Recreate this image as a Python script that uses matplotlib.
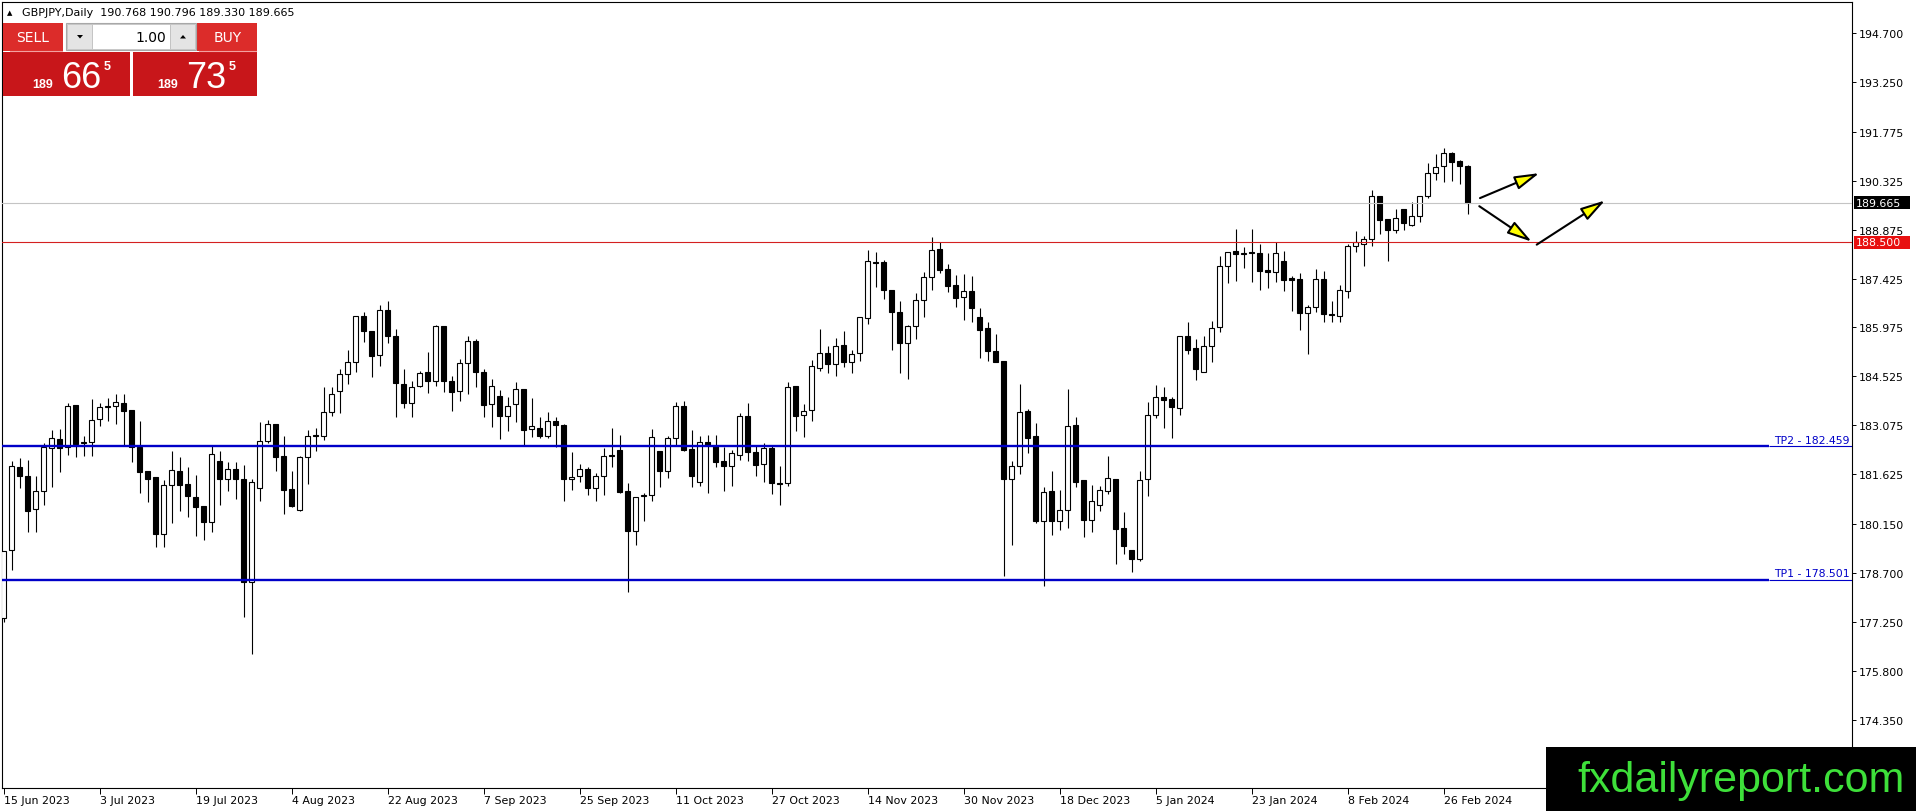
import numpy as np
import matplotlib
matplotlib.use("Agg")
import matplotlib.pyplot as plt
from matplotlib.patches import Rectangle, Polygon

W, H = 1916, 812

# daily bars, GBPJPY, 15 Jun 2023 .. 29 Feb 2024
opens = [177.36, 179.38, 181.84, 181.56, 180.59, 181.14, 182.40, 182.67, 182.42, 183.68,
         182.55, 182.57, 183.25, 183.62, 183.64, 183.74, 183.53, 182.44, 181.71, 181.53,
         179.86, 181.31, 181.71, 181.34, 180.94, 180.67, 180.20, 182.01, 181.49, 181.78,
         181.49, 178.42, 181.21, 182.60, 183.12, 182.16, 181.19, 180.57, 182.13, 182.79,
         182.77, 183.46, 184.08, 184.60, 184.94, 186.31, 185.86, 185.16, 186.49, 185.71,
         184.30, 183.73, 184.25, 184.65, 184.40, 186.01, 184.40, 184.08, 184.91, 185.57,
         184.65, 183.71, 183.94, 183.34, 183.71, 184.15, 182.97, 183.00, 182.75, 183.19,
         183.09, 181.48, 181.56, 181.78, 181.21, 181.56, 182.20, 182.34, 181.12, 179.93,
         180.97, 181.02, 182.30, 181.71, 182.69, 183.64, 182.37, 181.39, 182.57, 182.47,
         182.01, 181.86, 182.20, 183.34, 182.28, 181.93, 182.39, 181.37, 181.36, 184.23,
         183.38, 183.54, 184.77, 185.21, 184.89, 185.46, 184.94, 185.21, 186.25, 187.93,
         187.91, 187.10, 186.42, 185.52, 186.01, 186.80, 187.46, 188.30, 187.71, 187.23,
         186.87, 187.07, 186.28, 185.96, 185.27, 184.99, 181.47, 181.86, 183.51, 182.75,
         180.25, 181.12, 180.25, 180.57, 183.09, 181.44, 180.28, 180.72, 181.14, 181.48,
         180.02, 179.38, 179.11, 181.47, 183.39, 183.91, 183.86, 183.58, 185.71, 185.37,
         184.65, 185.44, 185.98, 187.79, 188.23, 188.14, 188.20, 188.17, 187.68, 187.61,
         187.96, 187.43, 187.41, 186.39, 186.57, 187.41, 186.37, 186.33, 187.07, 188.38,
         188.45, 188.60, 189.86, 189.19, 188.87, 189.49, 189.02, 189.29, 189.88, 190.55,
         190.75, 191.15, 190.91, 190.768]
highs = [179.36, 182.01, 182.11, 182.06, 181.58, 182.55, 182.94, 182.97, 183.74, 183.68,
         182.77, 183.86, 183.74, 183.89, 184.00, 184.00, 183.53, 183.21, 181.71, 181.55,
         181.46, 182.30, 182.13, 181.83, 181.60, 180.69, 182.47, 182.31, 181.98, 181.98,
         181.90, 181.49, 183.18, 183.23, 183.12, 182.75, 181.73, 182.16, 182.95, 183.00,
         184.20, 184.22, 184.75, 185.32, 186.33, 186.42, 185.86, 186.64, 186.77, 185.93,
         184.75, 184.40, 184.68, 185.24, 186.05, 186.01, 184.55, 185.04, 185.73, 185.63,
         184.75, 184.45, 184.13, 183.91, 184.35, 184.15, 183.89, 183.33, 183.46, 183.33,
         183.12, 182.28, 181.93, 181.83, 181.66, 182.40, 183.00, 182.79, 181.36, 180.96,
         181.06, 182.97, 182.30, 182.77, 183.76, 183.79, 182.94, 182.75, 182.80, 182.80,
         182.44, 182.34, 183.43, 183.74, 182.47, 182.55, 182.47, 181.86, 184.35, 184.25,
         183.71, 185.01, 185.93, 185.44, 185.66, 185.86, 185.31, 186.28, 188.27, 188.20,
         187.98, 187.10, 186.75, 186.06, 186.99, 187.61, 188.65, 188.50, 187.86, 187.53,
         187.56, 187.49, 186.54, 186.15, 185.78, 184.99, 182.01, 184.30, 183.56, 183.14,
         181.24, 181.71, 181.17, 184.15, 183.31, 181.44, 181.31, 181.29, 182.16, 181.48,
         180.50, 179.38, 181.71, 183.76, 184.28, 184.20, 183.91, 185.71, 186.13, 185.63,
         185.71, 186.18, 188.08, 188.22, 188.89, 188.35, 188.89, 188.45, 188.17, 188.52,
         188.25, 187.51, 187.58, 186.65, 187.71, 187.64, 186.75, 187.23, 188.45, 188.83,
         188.68, 190.05, 189.86, 189.19, 189.49, 189.49, 189.68, 189.88, 190.84, 191.12,
         191.28, 191.17, 190.95, 190.796]
lows = [177.24, 178.80, 181.22, 179.90, 179.90, 180.72, 181.24, 181.68, 182.21, 182.13,
        182.18, 182.18, 183.07, 183.19, 183.12, 182.47, 181.98, 181.06, 180.79, 179.46,
        179.46, 180.17, 180.55, 180.35, 179.79, 179.68, 179.90, 180.72, 181.12, 180.89,
        177.39, 176.30, 180.84, 182.54, 181.73, 180.45, 180.65, 180.55, 181.34, 182.32,
        182.64, 183.36, 183.43, 184.30, 184.67, 185.54, 184.52, 184.84, 185.51, 183.33,
        183.58, 183.33, 184.22, 184.02, 184.25, 184.05, 183.51, 183.79, 184.00, 184.22,
        183.33, 183.02, 182.67, 182.90, 183.16, 182.50, 182.74, 182.69, 182.70, 182.44,
        180.82, 181.17, 181.39, 181.02, 180.84, 181.02, 181.85, 181.08, 178.13, 179.54,
        180.25, 180.82, 181.24, 181.51, 182.47, 182.32, 181.24, 181.29, 181.06, 181.83,
        181.14, 181.27, 182.06, 182.01, 181.58, 181.39, 181.04, 180.72, 181.29, 182.92,
        182.72, 183.19, 184.70, 184.62, 184.53, 184.81, 184.62, 184.97, 186.08, 187.17,
        186.82, 185.31, 184.62, 184.45, 185.63, 186.28, 187.09, 187.58, 187.04, 186.59,
        186.21, 186.15, 185.06, 184.99, 184.96, 178.62, 179.54, 181.63, 182.25, 180.18,
        178.32, 179.81, 179.98, 180.02, 181.24, 179.76, 179.92, 180.55, 181.04, 178.97,
        179.26, 178.72, 179.04, 180.99, 183.29, 182.99, 182.70, 183.38, 185.19, 184.43,
        184.65, 184.96, 185.83, 187.28, 187.36, 187.73, 187.31, 187.10, 187.14, 187.31,
        187.07, 186.47, 185.91, 185.19, 186.42, 186.15, 186.15, 186.15, 186.84, 188.20,
        187.81, 188.40, 188.75, 187.96, 188.78, 188.87, 188.99, 189.11, 189.80, 190.36,
        190.30, 190.33, 190.23, 189.330]
closes = [179.36, 181.88, 181.58, 180.55, 181.14, 182.42, 182.69, 182.39, 183.64, 182.52,
          182.59, 183.23, 183.61, 183.64, 183.76, 183.51, 182.42, 181.70, 181.49, 179.84,
          181.31, 181.75, 181.32, 180.97, 180.65, 180.20, 182.23, 181.47, 181.78, 181.47,
          178.42, 181.39, 182.60, 183.10, 182.15, 181.17, 180.69, 182.13, 182.75, 182.75,
          183.46, 184.00, 184.60, 184.94, 186.31, 185.86, 185.12, 186.49, 185.71, 184.32,
          183.73, 184.20, 184.62, 184.40, 186.01, 184.40, 184.05, 184.91, 185.57, 184.65,
          183.69, 184.25, 183.34, 183.66, 184.15, 182.95, 183.05, 182.75, 183.19, 183.08,
          181.47, 181.55, 181.78, 181.21, 181.56, 182.16, 182.16, 181.11, 179.93, 180.94,
          181.02, 182.72, 181.71, 182.69, 183.64, 182.35, 181.58, 182.57, 182.49, 181.98,
          181.86, 182.25, 183.34, 182.28, 181.91, 182.39, 181.36, 181.34, 184.22, 183.36,
          183.51, 184.84, 185.21, 184.89, 185.44, 184.94, 185.19, 186.28, 187.94, 187.90,
          187.09, 186.42, 185.52, 186.03, 186.80, 187.46, 188.28, 187.69, 187.19, 186.85,
          187.05, 186.55, 185.91, 185.27, 184.96, 181.47, 181.86, 183.46, 182.70, 180.25,
          181.09, 180.25, 180.57, 183.07, 181.41, 180.28, 180.82, 181.17, 181.50, 180.00,
          179.51, 179.11, 181.44, 183.39, 183.91, 183.84, 183.61, 185.71, 185.32, 184.73,
          185.44, 185.95, 187.79, 188.22, 188.14, 188.19, 188.17, 187.66, 187.61, 188.17,
          187.39, 187.39, 186.39, 186.57, 187.41, 186.36, 186.34, 187.09, 188.38, 188.50,
          188.60, 189.86, 189.17, 188.87, 189.21, 189.06, 189.29, 189.88, 190.55, 190.72,
          191.15, 190.89, 190.75, 189.665]

date_labels = ["15 Jun 2023", "3 Jul 2023", "19 Jul 2023", "4 Aug 2023", "22 Aug 2023",
               "7 Sep 2023", "25 Sep 2023", "11 Oct 2023", "27 Oct 2023", "14 Nov 2023",
               "30 Nov 2023", "18 Dec 2023", "5 Jan 2024", "23 Jan 2024", "8 Feb 2024",
               "26 Feb 2024"]
label_step = 12

price_ticks = [194.700, 193.250, 191.775, 190.325, 188.875, 187.425, 185.975, 184.525,
               183.075, 181.625, 180.150, 178.700, 177.250, 175.800, 174.350]

bid = 189.665
level = 188.500
tp_levels = [182.459, 178.501]
tp_names = ["TP2", "TP1"]

# arrow objects (bar index, price): tail -> tip
arrows = [((184.55, 189.81), (191.96, 190.55)),
          ((184.46, 189.57), (191.01, 188.52)),
          ((191.64, 188.43), (200.18, 189.74))]

plt.rcParams['font.family'] = ['DejaVu Sans']
fig = plt.figure(figsize=(W / 100, H / 100), dpi=100)
ax = fig.add_axes([2 / W, 1 - 789 / H, 1850 / W, 786 / H])
ax.set_xlim(-0.2, 231.05)
ax.set_ylim(172.326, 195.622)

o = np.array(opens); c = np.array(closes)
hi = np.array(highs); lo = np.array(lows)
x = np.arange(len(o))
up = c >= o
bottom = np.minimum(o, c)
height = np.abs(c - o)

ax.vlines(x, lo, hi, color='black', lw=0.8, zorder=2)
ax.bar(x[up], height[up], bottom=bottom[up], width=0.58, facecolor='white',
       edgecolor='black', lw=0.8, zorder=3)
ax.bar(x[~up], height[~up], bottom=bottom[~up], width=0.58, facecolor='black',
       edgecolor='black', lw=0.8, zorder=3)

# horizontal levels
ax.axhline(bid, color='#c4c4c4', lw=0.8, zorder=4)
ax.axhline(level, color='#d42020', lw=0.8, zorder=4)
for lv, nm in zip(tp_levels, tp_names):
    ax.hlines(lv, -0.2, 220.7, color='#0000c8', lw=1.7, zorder=4)
    ax.hlines(lv, 220.7, 231.05, color='#0000c8', lw=0.8, zorder=4)
    ax.annotate("%s - %.3f" % (nm, lv), xy=(231.05, lv), xytext=(-2, 1.5),
                textcoords='offset pixels', ha='right', va='bottom',
                color='#0000c8', fontsize=7.8, zorder=5)

for tail, tip in arrows:
    ax.annotate('', xy=tip, xytext=tail,
                arrowprops=dict(arrowstyle='-|>,head_length=1.5,head_width=0.42',
                                fc='#ffff00', ec='black', lw=1.5,
                                shrinkA=0, shrinkB=0, mutation_scale=10),
                zorder=6)

# axes styling
for s in ax.spines.values():
    s.set_linewidth(0.8)
    s.set_color('black')
ax.yaxis.tick_right()
ax.set_yticks(price_ticks)
ax.set_yticklabels(["%.3f" % p for p in price_ticks])
ax.tick_params(axis='y', direction='out', length=3, width=0.7, pad=2, labelsize=7.9)
xt = list(range(0, label_step * len(date_labels), label_step))
ax.set_xticks(xt)
ax.set_xticklabels(date_labels, ha='left')
ax.tick_params(axis='x', direction='out', length=4, width=0.7, pad=1, labelsize=7.9)

# price boxes on the scale
ytr = ax.get_yaxis_transform()
for p, col in [(bid, 'black'), (level, '#e81010')]:
    ax.add_patch(Rectangle((1 + 2 / 1850, p - 6.5 / 33.74), 56 / 1850, 13 / 33.74,
                           transform=ytr, facecolor=col, edgecolor='none',
                           clip_on=False, zorder=5))
    ax.text(1 + 4 / 1850, p, "%.3f" % p, transform=ytr, va='center', ha='left',
            color='white', fontsize=7.9, zorder=6, clip_on=False)

# overlay in pixel coordinates for the terminal widgets
ov = fig.add_axes([0, 0, 1, 1], zorder=10)
ov.set_xlim(0, W)
ov.set_ylim(H, 0)
ov.axis('off')
ov.patch.set_alpha(0)

ov.text(7, 13.5, u'\u25b2', fontsize=5, va='center', ha='left', color='black')
ov.text(22, 13.5, "GBPJPY,Daily  190.768 190.796 189.330 189.665", fontsize=8,
        va='center', ha='left', color='black')

red_btn = '#dc2c2a'
red_box = '#c8161a'
ov.add_patch(Rectangle((3, 24), 60, 28, facecolor=red_btn, edgecolor='none'))
ov.add_patch(Rectangle((197, 24), 60, 28, facecolor=red_btn, edgecolor='none'))
ov.plot([10, 62], [52, 52], color='#f3a0a0', lw=0.8)
ov.plot([199, 256], [52, 52], color='#f3a0a0', lw=0.8)
ov.add_patch(Rectangle((66, 24), 130, 27, facecolor='#f0f0f0', edgecolor='#a8a8a8', lw=0.8))
ov.add_patch(Rectangle((67, 25), 25, 25, facecolor='#e4e4e4', edgecolor='#c0c0c0', lw=0.6))
ov.add_patch(Rectangle((92, 25), 78, 25, facecolor='white', edgecolor='#c0c0c0', lw=0.6))
ov.add_patch(Rectangle((170, 25), 25, 25, facecolor='#e4e4e4', edgecolor='#c0c0c0', lw=0.6))
ov.add_patch(Polygon([[77, 36], [83, 36], [80, 39.5]], closed=True, facecolor='black'))
ov.add_patch(Polygon([[180, 39.5], [186, 39.5], [183, 36]], closed=True, facecolor='black'))
ov.text(166, 37.5, "1.00", fontsize=10, ha='right', va='center', color='black')
ov.text(33, 38, "SELL", fontsize=10, ha='center', va='center', color='white')
ov.text(228, 38, "BUY", fontsize=10, ha='center', va='center', color='white')

ov.add_patch(Rectangle((3, 53), 127, 44, facecolor=red_box, edgecolor='none'))
ov.add_patch(Rectangle((133, 53), 124, 44, facecolor=red_box, edgecolor='none'))
for x0, big, sml in [(32, "66", "5"), (157, "73", "5")]:
    ov.text(x0, 88, "189", fontsize=9, fontweight='bold', family='Liberation Sans',
            ha='left', va='baseline', color='white')
    ov.text(x0 + 29, 88, big, fontsize=26, family='Liberation Sans',
            ha='left', va='baseline', color='white')
    ov.text(x0 + 72, 70, sml, fontsize=9, fontweight='bold', family='Liberation Sans',
            ha='left', va='baseline', color='white')

# watermark
ov.add_patch(Rectangle((1546, 748), 370, 64, facecolor='black', edgecolor='none'))
ov.text(1577, 792, "fxdailyreport.com", fontsize=31, family='Liberation Sans',
        ha='left', va='baseline', color='#3ee03a')

fig.savefig('out.png', dpi=100)
